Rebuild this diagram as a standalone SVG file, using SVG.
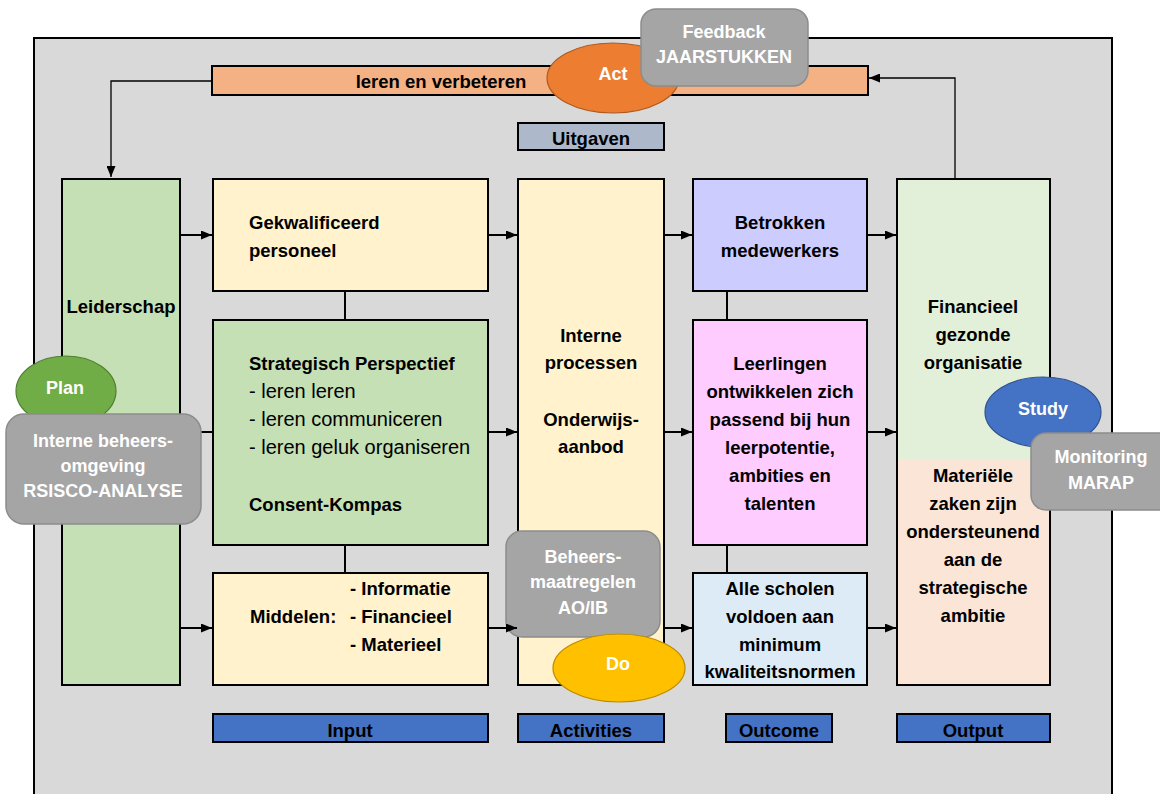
<svg xmlns="http://www.w3.org/2000/svg" width="1160" height="794" viewBox="0 0 1160 794">
<defs>
<marker id="ah" markerUnits="userSpaceOnUse" markerWidth="11" markerHeight="9" refX="11" refY="4.5" orient="auto"><path d="M0,0 L11,4.5 L0,9 z" fill="#000"/></marker>
<style>
.box{stroke:#000;stroke-width:2}
.t{font-family:"Liberation Sans",Arial,sans-serif;font-weight:bold;font-size:18.5px;fill:#000}
.r{font-family:"Liberation Sans",Arial,sans-serif;font-size:20px;fill:#000}
.c{text-anchor:middle}
.w{font-family:"Liberation Sans",Arial,sans-serif;font-weight:bold;font-size:18px;fill:#fff;text-anchor:middle}
.gray{fill:#a5a5a5;stroke:#8c8c8c;stroke-width:1.5}
.con{fill:none;stroke:#000;stroke-width:2}
.thin{fill:none;stroke:#000;stroke-width:1.3}
.lab{fill:#4472c4;stroke:#000;stroke-width:2}
</style>
</defs>
<rect x="34" y="38" width="1078" height="780" fill="#d9d9d9" stroke="#000" stroke-width="2"/>

<g id="leren">
<rect class="box" x="212" y="66" width="656" height="29" fill="#f4b183"/>
<text class="t c" x="441" y="88">leren en verbeteren</text>
</g>
<g id="uitgaven">
<rect class="box" x="518" y="123" width="146" height="27" fill="#adb9ca"/>
<text class="t c" x="591" y="145">Uitgaven</text>
</g>

<g id="leiderschap">
<rect class="box" x="62" y="179" width="118" height="506" fill="#c5e0b4"/>
<text class="t c" x="121" y="313">Leiderschap</text>
</g>
<g id="gekwalificeerd">
<rect class="box" x="213" y="179" width="275" height="112" fill="#fff2cc"/>
<text class="t" x="249" y="229">Gekwalificeerd</text>
<text class="t" x="249" y="257">personeel</text>
</g>
<g id="strategisch">
<rect class="box" x="213" y="320" width="275" height="225" fill="#c5e0b4"/>
<text class="t" x="249" y="370">Strategisch Perspectief</text>
<text class="r" x="249" y="398">- leren leren</text>
<text class="r" x="249" y="426">- leren communiceren</text>
<text class="r" x="249" y="454">- leren geluk organiseren</text>
<text class="t" x="249" y="511">Consent-Kompas</text>
</g>
<g id="middelen">
<rect class="box" x="213" y="573" width="275" height="112" fill="#fff2cc"/>
<text class="t" x="350" y="595">- Informatie</text>
<text class="t" y="623"><tspan x="250">Middelen:</tspan><tspan x="350">- Financieel</tspan></text>
<text class="t" x="350" y="651">- Materieel</text>
</g>
<g id="interne-processen">
<rect class="box" x="518" y="179" width="146" height="506" fill="#fff2cc"/>
<text class="t c" x="591" y="342">Interne</text>
<text class="t c" x="591" y="369">processen</text>
<text class="t c" x="591" y="426">Onderwijs-</text>
<text class="t c" x="591" y="453">aanbod</text>
</g>
<g id="betrokken">
<rect class="box" x="693" y="179" width="174" height="112" fill="#ccccff"/>
<text class="t c" x="780" y="229">Betrokken</text>
<text class="t c" x="780" y="257">medewerkers</text>
</g>
<g id="leerlingen">
<rect class="box" x="693" y="320" width="174" height="225" fill="#ffccff"/>
<text class="t c" x="780" y="370">Leerlingen</text>
<text class="t c" x="780" y="398">ontwikkelen zich</text>
<text class="t c" x="780" y="426">passend bij hun</text>
<text class="t c" x="780" y="454">leerpotentie,</text>
<text class="t c" x="780" y="482">ambities en</text>
<text class="t c" x="780" y="510">talenten</text>
</g>
<g id="alle-scholen">
<rect class="box" x="693" y="573" width="174" height="112" fill="#ddebf7"/>
<text class="t c" x="780" y="595">Alle scholen</text>
<text class="t c" x="780" y="623">voldoen aan</text>
<text class="t c" x="780" y="651">minimum</text>
<text class="t c" x="780" y="678">kwaliteitsnormen</text>
</g>
<g id="output-box">
<rect x="897" y="179" width="153" height="280" fill="#e2f0d9"/>
<rect x="897" y="459" width="153" height="226" fill="#fbe5d6"/>
<rect x="897" y="179" width="153" height="506" fill="none" stroke="#000" stroke-width="2"/>
<text class="t c" x="973" y="313">Financieel</text>
<text class="t c" x="973" y="341">gezonde</text>
<text class="t c" x="973" y="369">organisatie</text>
<text class="t c" x="973" y="482">Materiële</text>
<text class="t c" x="973" y="510">zaken zijn</text>
<text class="t c" x="973" y="538">ondersteunend</text>
<text class="t c" x="973" y="566">aan de</text>
<text class="t c" x="973" y="594">strategische</text>
<text class="t c" x="973" y="622">ambitie</text>
</g>

<g id="label-input"><rect class="lab" x="213" y="714" width="275" height="28"/><text class="t c" x="350" y="737">Input</text></g>
<g id="label-activities"><rect class="lab" x="518" y="714" width="146" height="28"/><text class="t c" x="591" y="737">Activities</text></g>
<g id="label-outcome"><rect class="lab" x="726" y="714" width="106" height="28"/><text class="t c" x="779" y="737">Outcome</text></g>
<g id="label-output"><rect class="lab" x="897" y="714" width="153" height="28"/><text class="t c" x="973" y="737">Output</text></g>

<g id="beheersmaatregelen">
<rect class="gray" x="506" y="531" width="154" height="106" rx="16"/>
<text class="w" x="583" y="563">Beheers-</text>
<text class="w" x="583" y="588">maatregelen</text>
<text class="w" x="583" y="614">AO/IB</text>
</g>

<g id="connectors">
<path class="thin" d="M212,81 H111 V177" marker-end="url(#ah)"/>
<path class="thin" d="M955,179 V78 H869" marker-end="url(#ah)"/>
<path class="con" d="M180,235 H212" marker-end="url(#ah)"/>
<path class="con" d="M180,432 H212"/>
<path class="con" d="M180,628 H212" marker-end="url(#ah)"/>
<path class="con" d="M488,235 H517" marker-end="url(#ah)"/>
<path class="con" d="M488,432 H517" marker-end="url(#ah)"/>
<path class="con" d="M488,628 H517" marker-end="url(#ah)"/>
<path class="con" d="M664,235 H692" marker-end="url(#ah)"/>
<path class="con" d="M664,432 H692" marker-end="url(#ah)"/>
<path class="con" d="M664,628 H692" marker-end="url(#ah)"/>
<path class="con" d="M867,235 H896" marker-end="url(#ah)"/>
<path class="con" d="M867,432 H896" marker-end="url(#ah)"/>
<path class="con" d="M867,628 H896" marker-end="url(#ah)"/>
<path class="con" d="M345,291 V320 M345,545 V573 M727,291 V320 M727,545 V573"/>
</g>

<g id="plan">
<ellipse cx="66" cy="391" rx="50" ry="35" fill="#70ad47" stroke="#507e32" stroke-width="1.2"/>
<text class="w" x="65" y="394">Plan</text>
</g>
<g id="interne-beheersomgeving">
<rect class="gray" x="6" y="414" width="195" height="110" rx="18"/>
<text class="w" x="103" y="447">Interne beheers-</text>
<text class="w" x="103" y="472">omgeving</text>
<text class="w" x="103" y="497">RSISCO-ANALYSE</text>
</g>
<g id="act">
<ellipse cx="613" cy="78" rx="66" ry="35" fill="#ed7d31" stroke="#ae5a21" stroke-width="1.2"/>
<text class="w" x="613" y="80">Act</text>
</g>
<g id="feedback">
<rect class="gray" x="641" y="9" width="167" height="77" rx="15"/>
<text class="w" x="724" y="38">Feedback</text>
<text class="w" x="724" y="63">JAARSTUKKEN</text>
</g>
<g id="study">
<ellipse cx="1043" cy="412" rx="58" ry="35" fill="#4472c4" stroke="#2f528f" stroke-width="1.2"/>
<text class="w" x="1043" y="415">Study</text>
</g>
<g id="monitoring">
<rect class="gray" x="1031" y="433" width="145" height="77" rx="15"/>
<text class="w" x="1101" y="463">Monitoring</text>
<text class="w" x="1101" y="489">MARAP</text>
</g>
<g id="do">
<ellipse cx="619" cy="668" rx="66" ry="34" fill="#ffc000" stroke="#bc8c00" stroke-width="1.2"/>
<text class="w" x="618" y="670">Do</text>
</g>
</svg>
